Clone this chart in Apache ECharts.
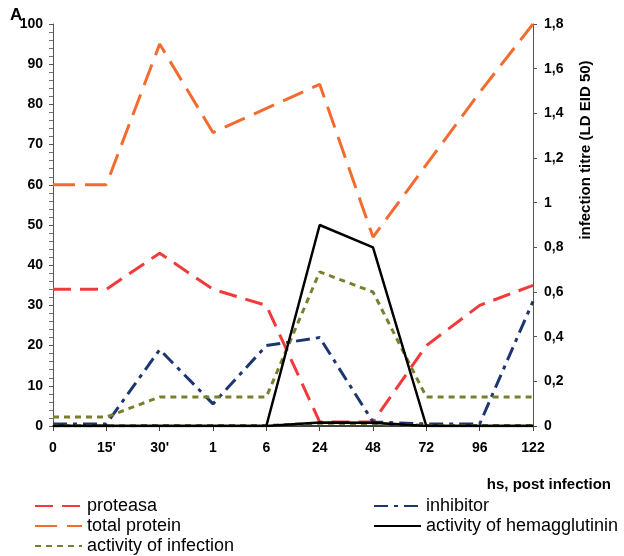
<!DOCTYPE html>
<html><head><meta charset="utf-8">
<script src="https://cdn.jsdelivr.net/npm/echarts@6/dist/echarts.min.js"></script>
<style>html,body{margin:0;padding:0;background:#fff}#c{width:624px;height:556px}</style>
</head><body><div id="c"></div>
<script>
const categories = ["0","15'","30'","1","6","24","48","72","96","122"];
const leftTicks = [0,10,20,30,40,50,60,70,80,90,100];
const rightTicks = [0,0.2,0.4,0.6,0.8,1,1.2,1.4,1.6,1.8];
const proteasa = [34,34,43,34,30,1,1,20,30,35];
const totalProtein = [60,60,95,73,79,85,47,65,83,100];
const inhibitor = [0.5,0.5,19,5.5,20,22,1,0.5,0.5,31];
const hemagglutinin = [0,0,0,0,0,0.9,0.8,0,0,0];
const infection = [0.04,0.04,0.13,0.13,0.13,0.69,0.6,0.13,0.13,0.13];

const F = 'Liberation Sans, Arial, sans-serif';
const chart = echarts.init(document.getElementById('c'));
const fmtR = v => String(Math.round(v*10)/10).replace('.', ',');
const line = (name, data, color, width, dash, yIdx, z) => ({
  name, type:'line', data, yAxisIndex:yIdx, symbol:'none', z:z||2,
  lineStyle:{color, width, type:dash}, itemStyle:{color}
});
const legBase = {orient:'vertical', top:497, height:70, itemWidth:47, itemHeight:12, itemGap:2,
  itemStyle:{opacity:0}, padding:0,
  textStyle:{fontSize:18, color:'#000', fontFamily:F}};
chart.setOption({
  animation:false,
  textStyle:{fontFamily:F},
  grid:{left:53, right:91, top:24, bottom:130},
  graphic:[
    {type:'text', left:10, top:7, style:{text:'A', font:'bold 17px '+F, fill:'#000'}},
    {type:'text', x:611, y:485, style:{text:'hs, post infection', font:'bold 15px '+F, fill:'#000', align:'right', verticalAlign:'middle'}},
    {type:'text', x:586, y:150, rotation:Math.PI/2, style:{text:'infection titre (LD EID 50)', font:'bold 15px '+F, fill:'#000', align:'center', verticalAlign:'middle'}}
  ],
  legend:[
    Object.assign({}, legBase, {left:34, data:['proteasa','total protein','activity of infection']}),
    Object.assign({}, legBase, {left:373, data:['inhibitor','activity of hemagglutinin']})
  ],
  xAxis:{type:'category', data:categories, boundaryGap:false,
    axisLine:{lineStyle:{color:'#000', width:1.5}},
    axisTick:{show:true, length:5, interval:0, lineStyle:{color:'#444'}},
    axisLabel:{color:'#000', fontWeight:'bold', fontSize:14, margin:15, fontFamily:F, interval:0},
    splitLine:{show:false}},
  yAxis:[
    {type:'value', min:0, max:100, interval:10,
     axisLine:{show:true, lineStyle:{color:'#555'}},
     axisTick:{show:true, length:4, lineStyle:{color:'#555'}},
     minorTick:{show:true, splitNumber:5, length:4, lineStyle:{color:'#777'}},
     axisLabel:{color:'#000', fontWeight:'bold', fontSize:14, margin:10, fontFamily:F},
     splitLine:{show:false}},
    {type:'value', min:0, max:1.8, interval:0.2, position:'right',
     axisLine:{show:true, lineStyle:{color:'#555'}},
     axisTick:{show:true, length:4, lineStyle:{color:'#555'}},
     axisLabel:{color:'#000', fontWeight:'bold', fontSize:14, margin:11, fontFamily:F, formatter:fmtR},
     splitLine:{show:false}}
  ],
  series:[
    line('total protein', totalProtein, '#F26B2F', 3, [22,10], 0, 2),
    line('proteasa', proteasa, '#F23A3A', 3, [18,9], 0, 3),
    line('inhibitor', inhibitor, '#1E3670', 3, [14,6,4,6], 0, 4),
    line('activity of infection', infection, '#7A7F2E', 3, [6,5], 1, 5),
    line('activity of infection', infection, '#7A7F2E', 3, [6,5], 0, 5),
    line('activity of hemagglutinin', hemagglutinin, '#000000', 2.5, 'solid', 1, 6),
    line('activity of hemagglutinin', hemagglutinin, '#000000', 2.5, 'solid', 0, 6)
  ]
});
</script></body></html>
